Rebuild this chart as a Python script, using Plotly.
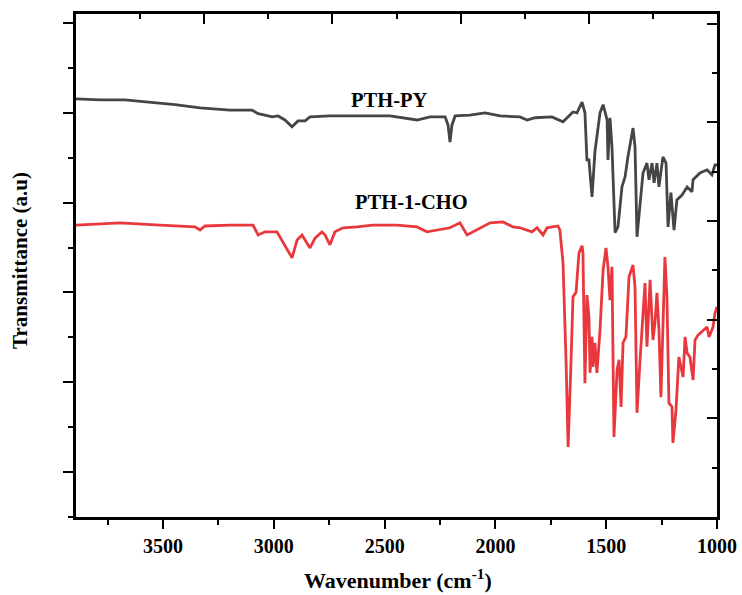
import plotly.graph_objects as go

# ---- data (wavenumber in cm^-1, transmittance in arbitrary units) ----
pth_py_wn = [3893, 3784, 3672, 3559, 3446, 3333, 3198, 3099, 3071, 3040, 3008, 2981, 2950, 2918,
             2891, 2859, 2837, 2747, 2611, 2476, 2354, 2295, 2227, 2214, 2205, 2196, 2182, 2115,
             2047, 1979, 1889, 1857, 1821, 1745, 1695, 1650, 1632, 1609, 1596, 1587, 1578, 1564,
             1551, 1528, 1514, 1496, 1492, 1483, 1474, 1460, 1447, 1429, 1415, 1402, 1379, 1370,
             1361, 1348, 1334, 1316, 1307, 1293, 1284, 1271, 1262, 1244, 1230, 1221, 1208, 1194,
             1181, 1158, 1135, 1113, 1108, 1077, 1045, 1023, 1009, 1000]
pth_py_t = [93.1, 92.9, 92.9, 92.4, 91.8, 91.1, 90.6, 90.6, 89.8, 89.5, 89.1, 89.3, 88.4, 86.9,
            88.2, 88.2, 89.1, 89.3, 89.3, 89.3, 88.4, 89.1, 89.1, 87.3, 83.5, 87.3, 89.3, 89.5,
            90.0, 89.3, 89.1, 88.4, 88.9, 89.1, 88.0, 90.2, 90.0, 92.4, 90.0, 79.5, 79.5, 71.3,
            81.3, 90.0, 91.8, 88.4, 79.5, 88.9, 82.4, 63.3, 64.6, 73.5, 75.7, 80.2, 86.6, 82.4,
            62.4, 69.9, 76.6, 78.8, 75.1, 78.8, 74.4, 78.8, 73.5, 80.2, 78.8, 64.6, 72.2, 63.9,
            70.6, 71.7, 73.5, 72.4, 75.1, 76.6, 77.3, 76.2, 78.4, 78.4]

pth_cho_wn = [3893, 3694, 3514, 3356, 3333, 3311, 3198, 3094, 3071, 3040, 2986, 2959, 2918, 2895,
              2873, 2837, 2814, 2783, 2769, 2747, 2724, 2688, 2625, 2553, 2444, 2354, 2309, 2205,
              2160, 2128, 2083, 2024, 1966, 1921, 1889, 1835, 1812, 1785, 1767, 1718, 1709, 1695,
              1681, 1672, 1659, 1650, 1636, 1623, 1609, 1605, 1596, 1587, 1578, 1573, 1564, 1560,
              1551, 1542, 1528, 1514, 1501, 1492, 1483, 1474, 1465, 1451, 1442, 1433, 1424, 1411,
              1397, 1379, 1370, 1361, 1348, 1334, 1325, 1316, 1302, 1289, 1280, 1271, 1262, 1253,
              1244, 1235, 1226, 1217, 1203, 1199, 1185, 1172, 1153, 1144, 1135, 1122, 1108, 1099,
              1086, 1063, 1045, 1036, 1018, 1009, 1000]
pth_cho_t = [65.0, 65.5, 65.0, 64.6, 63.9, 64.8, 65.0, 65.0, 62.8, 63.5, 63.5, 61.2, 57.7, 61.7,
             62.8, 59.9, 62.1, 63.5, 62.8, 60.6, 63.5, 64.4, 64.6, 65.0, 65.0, 64.6, 63.5, 64.4,
             65.5, 62.8, 63.9, 65.5, 65.7, 64.6, 64.4, 63.5, 64.4, 62.8, 64.4, 64.8, 63.9, 56.6,
             34.3, 15.6, 34.3, 49.0, 50.1, 58.8, 60.4, 58.8, 29.8, 49.4, 44.5, 32.1, 40.1, 33.4,
             38.8, 32.1, 41.6, 55.0, 59.9, 55.7, 48.3, 55.7, 17.8, 32.7, 35.0, 24.5, 38.8, 40.1,
             53.5, 56.1, 51.2, 23.2, 34.3, 45.4, 52.1, 37.9, 52.8, 39.4, 43.2, 49.9, 41.6, 26.7,
             41.6, 57.9, 49.0, 25.4, 24.5, 16.5, 23.8, 35.6, 31.2, 40.1, 36.5, 35.6, 30.5, 39.4,
             40.5, 41.6, 42.3, 40.1, 42.3, 45.4, 46.8]

series_names = ["PTH-PY", "PTH-1-CHO"]
label_pos_wn = [2480, 2381]
label_pos_t = [92.9, 70.2]
tick_wn = [3500, 3000, 2500, 2000, 1500, 1000]
minor_wn = [3750, 3250, 2750, 2250, 1750, 1250]
x_title = "Wavenumber (cm<sup>-1</sup>)"
y_title = "Transmittance (a.u)"

FONT = "Liberation Serif"
colors = ["#454545", "#e8383d"]

fig = go.Figure()
fig.add_trace(go.Scatter(x=pth_py_wn, y=pth_py_t, mode="lines", name=series_names[0],
                         line=dict(color=colors[0], width=2.8), showlegend=False))
fig.add_trace(go.Scatter(x=pth_cho_wn, y=pth_cho_t, mode="lines", name=series_names[1],
                         line=dict(color=colors[1], width=2.8), showlegend=False))
# empty trace to activate the mirrored top/right axes
fig.add_trace(go.Scatter(x=[], y=[], xaxis="x2", yaxis="y2", showlegend=False, hoverinfo="skip"))

for name, xw, yt in zip(series_names, label_pos_wn, label_pos_t):
    fig.add_annotation(x=xw, y=yt, xref="x", yref="y", text=name, showarrow=False,
                       font=dict(family=FONT, size=20.5, color="black", weight="bold"),
                       xanchor="center", yanchor="middle")

# axis titles
fig.add_annotation(x=0.502, y=-0.124, xref="paper", yref="paper", text=x_title, showarrow=False,
                   font=dict(family=FONT, size=22, color="black", weight="bold"),
                   xanchor="center", yanchor="middle")
fig.add_annotation(x=-0.0874, y=0.511, xref="paper", yref="paper", text=y_title, showarrow=False,
                   textangle=-90, font=dict(family=FONT, size=21, color="black", weight="bold"),
                   xanchor="center", yanchor="middle")

axis_line = dict(showline=True, linecolor="black", linewidth=2.5, showgrid=False, zeroline=False,
                 automargin=False)

fig.update_layout(
    width=742, height=595,
    margin=dict(l=76, r=25, t=14, b=78, autoexpand=False),
    paper_bgcolor="white", plot_bgcolor="white",
    font=dict(family=FONT, color="black"),
    xaxis=dict(range=[3893, 1000], tickmode="array", tickvals=tick_wn,
               ticktext=[str(v) for v in tick_wn],
               ticks="outside", ticklen=9, tickwidth=2, tickcolor="black",
               minor=dict(tickmode="array", tickvals=minor_wn,
                          ticks="outside", ticklen=5, tickwidth=2, tickcolor="black"),
               tickfont=dict(family=FONT, size=20, color="black", weight="bold"),
               **axis_line),
    yaxis=dict(range=[0, 112], tickmode="linear", tick0=10, dtick=20,
               ticks="outside", ticklen=10, tickwidth=2, tickcolor="black", showticklabels=False,
               minor=dict(tick0=0, dtick=10, ticks="outside", ticklen=5, tickwidth=2, tickcolor="black"),
               **axis_line),
    xaxis2=dict(overlaying="x", side="top", anchor="y", range=[0, 10], tickmode="linear",
                tick0=0, dtick=2, ticks="inside", ticklen=10, tickwidth=2, tickcolor="black",
                showticklabels=False,
                minor=dict(tick0=0, dtick=1, ticks="inside", ticklen=5, tickwidth=2, tickcolor="black"),
                **axis_line),
    yaxis2=dict(overlaying="y", side="right", anchor="x", range=[0, 10.2], tickmode="linear",
                tick0=0, dtick=2, ticks="inside", ticklen=10, tickwidth=2, tickcolor="black",
                showticklabels=False,
                minor=dict(tick0=0, dtick=1, ticks="inside", ticklen=5, tickwidth=2, tickcolor="black"),
                **axis_line),
)

fig.write_html("out.html")
